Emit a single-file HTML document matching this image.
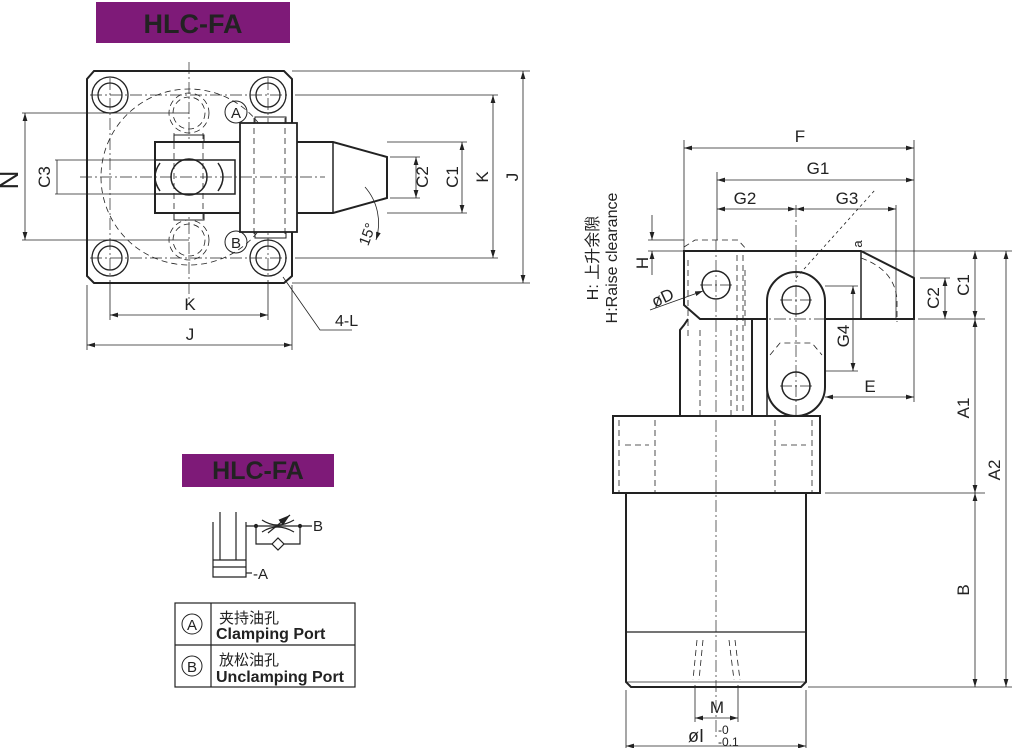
<!DOCTYPE html>
<html><head><meta charset="utf-8"><style>
html,body{margin:0;padding:0;background:#fff;}
svg{display:block;}
text{font-family:"Liberation Sans","Noto Sans CJK SC",sans-serif;fill:#222;}
</style></head><body>
<svg width="1016" height="748" viewBox="0 0 1016 748" xmlns="http://www.w3.org/2000/svg">
<defs>
<marker id="a" viewBox="0 0 10 6" refX="10" refY="3" markerWidth="10" markerHeight="6" orient="auto-start-reverse"><path d="M0,0 L10,3 L0,6 z" fill="#222"/></marker>
</defs>
<!-- banners -->
<rect x="96" y="2" width="194" height="41" fill="#7e1a78"/>
<text x="193" y="33" font-size="27" font-weight="bold" text-anchor="middle" fill="#1a1a1a">HLC-FA</text>
<rect x="182" y="454" width="152" height="33" fill="#7e1a78"/>
<text x="258" y="479" font-size="25" font-weight="bold" text-anchor="middle" fill="#1a1a1a">HLC-FA</text>

<g fill="none" stroke="#222">
<!-- LEFT TOP VIEW -->
<path d="M94,71 H284 L292,79 V276 L284,283 H94 L87,276 V79 Z" stroke-width="2"/>
<g stroke-width="1.3">
<circle cx="110" cy="95" r="18"/><circle cx="110" cy="95" r="12"/>
<circle cx="268" cy="95" r="18"/><circle cx="268" cy="95" r="12"/>
<circle cx="110" cy="258" r="18"/><circle cx="110" cy="258" r="12"/>
<circle cx="268" cy="258" r="18"/><circle cx="268" cy="258" r="12"/>
</g>
<g stroke-width="0.8" stroke-dasharray="6,4">
<circle cx="189" cy="177" r="88"/>
<circle cx="189" cy="113" r="20"/><circle cx="189" cy="113" r="16"/>
<circle cx="189" cy="240" r="20"/><circle cx="189" cy="240" r="16"/>
</g>
<g stroke-width="0.7" stroke-dasharray="12,3,2,3">
<line x1="189" y1="62" x2="189" y2="300"/>
<line x1="90" y1="95" x2="290" y2="95"/><line x1="90" y1="258" x2="290" y2="258"/>
<line x1="110" y1="78" x2="110" y2="276"/><line x1="268" y1="78" x2="268" y2="276"/>
</g>
<path d="M155,142 H333 L387,157 V198 L333,213 H155 Z" stroke-width="2" fill="#fff"/>
<line x1="333" y1="142" x2="333" y2="213" stroke-width="1.5"/>
<rect x="155" y="160" width="80" height="34" stroke-width="1.5"/>
<circle cx="189" cy="177" r="18" stroke-width="1.5"/>
<path d="M160,163 Q150,177 160,191 M218,163 Q228,177 218,191" stroke-width="1.5"/>
<rect x="240" y="123" width="57" height="109" stroke-width="1.8" fill="#fff"/>
<g stroke-width="0.8" stroke-dasharray="6,4">
<line x1="254" y1="118" x2="254" y2="237"/><line x1="285" y1="118" x2="285" y2="237"/>
<line x1="174" y1="133" x2="174" y2="222"/><line x1="203" y1="133" x2="203" y2="222"/>
</g>
<rect x="174" y="135" width="30" height="7" stroke-width="1"/>
<rect x="174" y="213" width="30" height="7" stroke-width="1"/>
<rect x="255" y="117" width="31" height="6" stroke-width="1"/>
<rect x="255" y="232" width="31" height="6" stroke-width="1"/>
<line x1="80" y1="177" x2="325" y2="177" stroke-width="0.7" stroke-dasharray="12,3,2,3"/>
<circle cx="236" cy="112" r="11" stroke-width="1"/><circle cx="236" cy="242" r="11" stroke-width="1"/>
<!-- left dims -->
<g stroke-width="0.8">
<line x1="22" y1="113" x2="189" y2="113"/><line x1="22" y1="240" x2="189" y2="240"/>
<line x1="25" y1="113" x2="25" y2="240" marker-start="url(#a)" marker-end="url(#a)"/>
<line x1="55" y1="160" x2="155" y2="160"/><line x1="55" y1="194" x2="155" y2="194"/>
<line x1="57" y1="160" x2="57" y2="194"/>
<line x1="390" y1="157" x2="420" y2="157"/><line x1="390" y1="198" x2="420" y2="198"/>
<line x1="416" y1="157" x2="416" y2="198" marker-start="url(#a)" marker-end="url(#a)"/>
<line x1="387" y1="142" x2="467" y2="142"/><line x1="387" y1="213" x2="467" y2="213"/>
<line x1="462" y1="142" x2="462" y2="213" marker-start="url(#a)" marker-end="url(#a)"/>
<line x1="295" y1="95" x2="498" y2="95"/><line x1="295" y1="258" x2="498" y2="258"/>
<line x1="493" y1="95" x2="493" y2="258" marker-start="url(#a)" marker-end="url(#a)"/>
<line x1="292" y1="71" x2="530" y2="71"/><line x1="292" y1="283" x2="530" y2="283"/>
<line x1="523" y1="71" x2="523" y2="283" marker-start="url(#a)" marker-end="url(#a)"/>
<line x1="110" y1="280" x2="110" y2="320"/><line x1="268" y1="280" x2="268" y2="320"/>
<line x1="110" y1="315" x2="268" y2="315" marker-start="url(#a)" marker-end="url(#a)"/>
<line x1="87" y1="285" x2="87" y2="350"/><line x1="292" y1="285" x2="292" y2="350"/>
<line x1="87" y1="345" x2="292" y2="345" marker-start="url(#a)" marker-end="url(#a)"/>
<polyline points="283,277 320,330 352,330"/>
<path d="M365,187 A55,55 0 0 1 376,240" marker-end="url(#a)"/>
</g>

<!-- RIGHT SIDE VIEW -->
<path d="M684,251 H861 L914,278 V319 H700 L684,305 Z" stroke-width="2" fill="#fff"/>
<line x1="861" y1="251" x2="861" y2="319" stroke-width="1.5"/>
<path d="M688,319 L684,325 L680,330 V416 H752 V319" stroke-width="2"/>
<rect x="752" y="319" width="15" height="97" stroke-width="1.5"/>
<rect x="767" y="272" width="58" height="144" rx="29" stroke-width="2" fill="#fff"/>
<circle cx="796" cy="300" r="14" stroke-width="1.5"/><circle cx="796" cy="386" r="14" stroke-width="1.5"/>
<circle cx="716" cy="285" r="14" stroke-width="1.5"/>
<rect x="613" y="416" width="207" height="77" stroke-width="2" fill="#fff"/>
<path d="M626,493 V682 L631,687 H801 L806,682 V493" stroke-width="2"/>
<line x1="626" y1="632" x2="806" y2="632" stroke-width="1.2"/>
<line x1="627" y1="682" x2="805" y2="682" stroke-width="0.8"/>
<g stroke-width="0.8" stroke-dasharray="6,4">
<path d="M684,247 L695,240 H738 L748,251"/>
<path d="M688,260 V340 M745,270 V330"/>
<path d="M737,255 V416 M743,255 V416 M731,330 V416 M700,330 V416"/>
<path d="M770,355 L780,343 H812 L822,355"/>
<path d="M619,420 V493 M655,420 V493 M625,445 H649 M775,420 V493 M812,420 V493 M781,445 H806"/>
<path d="M861,258 Q895,270 897,300 V322"/>
<path d="M697,640 L693,680 M735,640 L740,680 M703,640 L699,680 M729,640 L734,680"/>
<path d="M796,278 L875,190" stroke-dasharray="3,3"/>
</g>
<g stroke-width="0.7" stroke-dasharray="12,3,2,3">
<line x1="716" y1="240" x2="716" y2="740"/>
<line x1="796" y1="205" x2="796" y2="420"/>
<line x1="700" y1="285" x2="735" y2="285"/><line x1="780" y1="300" x2="812" y2="300"/><line x1="780" y1="386" x2="812" y2="386"/>
<line x1="754" y1="319" x2="825" y2="319"/>
</g>
<g stroke-width="0.8">
<line x1="684" y1="140" x2="684" y2="251"/><line x1="914" y1="140" x2="914" y2="278"/>
<line x1="684" y1="148" x2="914" y2="148" marker-start="url(#a)" marker-end="url(#a)"/>
<line x1="717" y1="172" x2="717" y2="240"/>
<line x1="717" y1="180" x2="914" y2="180" marker-start="url(#a)" marker-end="url(#a)"/>
<line x1="717" y1="209" x2="796" y2="209" marker-start="url(#a)" marker-end="url(#a)"/>
<line x1="796" y1="209" x2="896" y2="209" marker-start="url(#a)" marker-end="url(#a)"/>
<line x1="896" y1="205" x2="896" y2="320"/>
<line x1="648" y1="240" x2="684" y2="240"/><line x1="648" y1="251" x2="684" y2="251"/>
<line x1="652" y1="215" x2="652" y2="240" marker-end="url(#a)"/>
<line x1="652" y1="275" x2="652" y2="251" marker-end="url(#a)"/>
<line x1="650" y1="310" x2="703" y2="291" marker-end="url(#a)"/>
<line x1="861" y1="251" x2="1012" y2="251"/><line x1="918" y1="319" x2="985" y2="319"/>
<line x1="920" y1="278" x2="950" y2="278"/>
<line x1="945" y1="278" x2="945" y2="319" marker-start="url(#a)" marker-end="url(#a)"/>
<line x1="975" y1="251" x2="975" y2="319" marker-start="url(#a)" marker-end="url(#a)"/>
<line x1="975" y1="319" x2="975" y2="493" marker-start="url(#a)" marker-end="url(#a)"/>
<line x1="825" y1="493" x2="985" y2="493"/>
<line x1="975" y1="493" x2="975" y2="687" marker-start="url(#a)" marker-end="url(#a)"/>
<line x1="808" y1="687" x2="1012" y2="687"/>
<line x1="1006" y1="251" x2="1006" y2="687" marker-start="url(#a)" marker-end="url(#a)"/>
<line x1="825" y1="286" x2="858" y2="286"/><line x1="825" y1="371" x2="858" y2="371"/>
<line x1="853" y1="286" x2="853" y2="371" marker-start="url(#a)" marker-end="url(#a)"/>
<line x1="914" y1="319" x2="914" y2="402"/>
<line x1="825" y1="397" x2="914" y2="397" marker-start="url(#a)" marker-end="url(#a)"/>
<line x1="695" y1="685" x2="695" y2="722"/><line x1="738" y1="685" x2="738" y2="722"/>
<line x1="695" y1="718" x2="738" y2="718" marker-start="url(#a)" marker-end="url(#a)"/>
<line x1="626" y1="690" x2="626" y2="748"/><line x1="806" y1="690" x2="806" y2="748"/>
<line x1="626" y1="746" x2="806" y2="746" marker-start="url(#a)" marker-end="url(#a)"/>
</g>

<!-- hydraulic symbol -->
<g stroke-width="1.2">
<path d="M213,522 V577 H246 V522"/>
<path d="M220,512 V560 M236,512 V560"/>
<path d="M213,560 H246 M213,567 H246"/>
<line x1="246" y1="573" x2="252" y2="573"/>
<path d="M246,526 H312"/>
<path d="M256,526 V544 H300 V526"/>
<path d="M262,520 Q277,530 294,520 M262,532 Q277,522 294,532"/>
<line x1="268" y1="533" x2="290" y2="515" marker-end="url(#a)"/>
<path d="M272,544 L278,538 L284,544 L278,550 Z" fill="#fff"/>
<circle cx="256" cy="526" r="1.5" fill="#222"/><circle cx="300" cy="526" r="1.5" fill="#222"/>
</g>
<!-- table -->
<rect x="175" y="603" width="180" height="84" stroke-width="1.2"/>
<line x1="175" y1="645" x2="355" y2="645" stroke-width="1.2"/>
<line x1="211" y1="603" x2="211" y2="687" stroke-width="1.2"/>
<circle cx="192" cy="624" r="10" stroke-width="1"/><circle cx="192" cy="666" r="10" stroke-width="1"/>
</g>

<g font-size="17">
<text x="236" y="118" font-size="15" text-anchor="middle">A</text>
<text x="236" y="248" font-size="15" text-anchor="middle">B</text>
<text x="190" y="310" text-anchor="middle">K</text>
<text x="190" y="340" text-anchor="middle">J</text>
<text x="335" y="326" font-size="16">4-L</text>
<text transform="translate(18,180) rotate(-90)" font-size="26" text-anchor="middle">N</text>
<text transform="translate(50,177) rotate(-90)" text-anchor="middle">C3</text>
<text transform="translate(428,177) rotate(-90)" text-anchor="middle">C2</text>
<text transform="translate(458,177) rotate(-90)" text-anchor="middle">C1</text>
<text transform="translate(488,177) rotate(-90)" text-anchor="middle">K</text>
<text transform="translate(518,177) rotate(-90)" text-anchor="middle">J</text>
<text transform="translate(372,236) rotate(-70)" font-size="15" text-anchor="middle">15°</text>

<text x="800" y="142" text-anchor="middle">F</text>
<text x="818" y="174" text-anchor="middle">G1</text>
<text x="745" y="204" text-anchor="middle">G2</text>
<text x="847" y="204" text-anchor="middle">G3</text>
<text transform="translate(648,263) rotate(-90)" text-anchor="middle">H</text>
<text transform="translate(665,303) rotate(-25)" text-anchor="middle">øD</text>
<text transform="translate(862,244) rotate(-90)" font-size="13" text-anchor="middle">a</text>
<text transform="translate(939,298) rotate(-90)" text-anchor="middle">C2</text>
<text transform="translate(969,285) rotate(-90)" text-anchor="middle">C1</text>
<text transform="translate(969,408) rotate(-90)" text-anchor="middle">A1</text>
<text transform="translate(1000,470) rotate(-90)" text-anchor="middle">A2</text>
<text transform="translate(969,590) rotate(-90)" text-anchor="middle">B</text>
<text transform="translate(849,336) rotate(-90)" text-anchor="middle">G4</text>
<text x="870" y="392" text-anchor="middle">E</text>
<text x="717" y="713" text-anchor="middle">M</text>
<text x="688" y="742" font-size="18">øI</text>
<text x="718" y="734" font-size="12">-0</text>
<text x="718" y="746" font-size="12">-0.1</text>
<text transform="translate(598,258) rotate(-90)" font-size="16" text-anchor="middle">H: 上升余隙</text>
<text transform="translate(617,258) rotate(-90)" font-size="16" text-anchor="middle">H:Raise clearance</text>

<text x="313" y="531" font-size="15">B</text>
<text x="253" y="579" font-size="15">-A</text>
<text x="192" y="630" font-size="15" text-anchor="middle">A</text>
<text x="192" y="672" font-size="15" text-anchor="middle">B</text>
<text x="219" y="623" font-size="15">夹持油孔</text>
<text x="216" y="639" font-size="16" font-weight="bold" fill="#333">Clamping Port</text>
<text x="219" y="665" font-size="15">放松油孔</text>
<text x="216" y="682" font-size="16" font-weight="bold" fill="#333">Unclamping Port</text>
</g>
</svg>
</body></html>
